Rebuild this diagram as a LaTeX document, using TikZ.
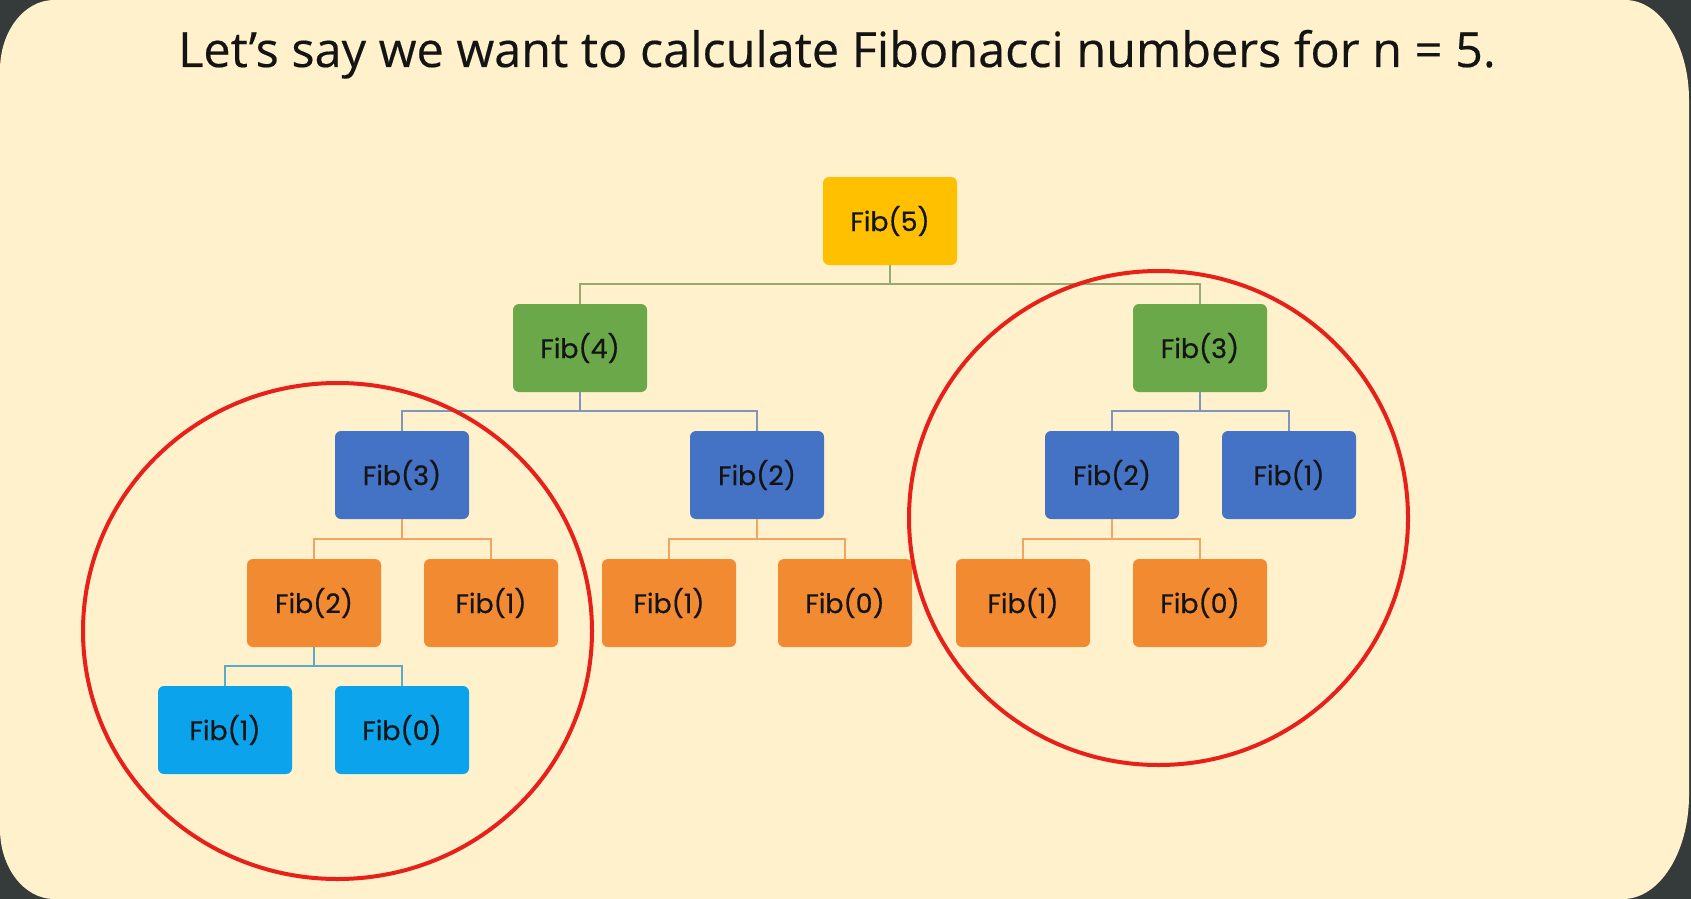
\documentclass[tikz,border=0pt]{standalone}
\usepackage{fontspec}
\setmainfont[FakeBold=0.3]{Open Sans}
\newfontfamily\nodefont[FakeBold=0.6]{Poppins}
\usetikzlibrary{calc}
\definecolor{bgdark}{HTML}{353A3A}
\definecolor{cream}{HTML}{FFF1CB}
\definecolor{cgold}{HTML}{FFC000}
\definecolor{cgreen}{HTML}{6AA84A}
\definecolor{cblue}{HTML}{4472C4}
\definecolor{corange}{HTML}{F28A32}
\definecolor{clblue}{HTML}{0AA3EC}
\definecolor{lgreen}{HTML}{93AA70}
\definecolor{lblue}{HTML}{8194BC}
\definecolor{lorange}{HTML}{F0A466}
\definecolor{llblue}{HTML}{5AAAC8}
\definecolor{cred}{HTML}{E8201A}
\begin{document}
\begin{tikzpicture}[x=0.5pt,y=-0.5pt,
  fib/.style={rectangle, rounded corners=3pt, minimum width=67pt, minimum height=44pt, inner sep=0pt, text=black!92, font=\nodefont\fontsize{13.4}{15}\selectfont},
  conn/.style={line width=1pt},
  ring/.style={draw=cred, line width=2pt}]
\useasboundingbox (0,0) rectangle (1691,899);
\fill[bgdark] (0,0) rectangle (1691,899);
\fill[cream] (0,70) arc[start angle=180, end angle=270, x radius=54, y radius=70]
  -- (1625,0) arc[start angle=270, end angle=360, x radius=64, y radius=100]
  -- (1689,795) arc[start angle=0, end angle=90, x radius=66, y radius=104]
  -- (54,899) arc[start angle=90, end angle=180, x radius=54, y radius=70] -- cycle;
\node[anchor=base, font=\fontsize{24.3}{28}\selectfont, text=black!92] (title) at (837,67) {Let’s say we want to calculate Fibonacci numbers for n = 5.};
% level 0
\node[fib, fill=cgold] (n5) at (890,221) {Fib(5)};
% level 1
\node[fib, fill=cgreen] (n4) at (580,348) {Fib(4)};
\node[fib, fill=cgreen] (r3) at (1200,348) {Fib(3)};
% level 2
\node[fib, fill=cblue] (a3) at (402,475) {Fib(3)};
\node[fib, fill=cblue] (a2) at (757,475) {Fib(2)};
\node[fib, fill=cblue] (b2) at (1112,475) {Fib(2)};
\node[fib, fill=cblue] (b1) at (1289,475) {Fib(1)};
% level 3
\node[fib, fill=corange] (c2) at (314,603) {Fib(2)};
\node[fib, fill=corange] (c1) at (491,603) {Fib(1)};
\node[fib, fill=corange] (d1) at (669,603) {Fib(1)};
\node[fib, fill=corange] (d0) at (845,603) {Fib(0)};
\node[fib, fill=corange] (e1) at (1023,603) {Fib(1)};
\node[fib, fill=corange] (e0) at (1200,603) {Fib(0)};
% level 4
\node[fib, fill=clblue] (f1) at (225,730) {Fib(1)};
\node[fib, fill=clblue] (f0) at (402,730) {Fib(0)};
% connectors
\foreach \p/\c/\col in {n5/n4/lgreen, n5/r3/lgreen,
  n4/a3/lblue, n4/a2/lblue, r3/b2/lblue, r3/b1/lblue,
  a3/c2/lorange, a3/c1/lorange, a2/d1/lorange, a2/d0/lorange, b2/e1/lorange, b2/e0/lorange,
  c2/f1/llblue, c2/f0/llblue}
  \draw[conn, draw=\col] (\p.south) |- ($(\c.north)+(0,-20)$) -- (\c.north);
% red rings
\draw[ring] (337.5,631) ellipse[x radius=254.5, y radius=248];
\draw[ring] (1158.5,518) ellipse[x radius=249.5, y radius=247];
\end{tikzpicture}
\end{document}
